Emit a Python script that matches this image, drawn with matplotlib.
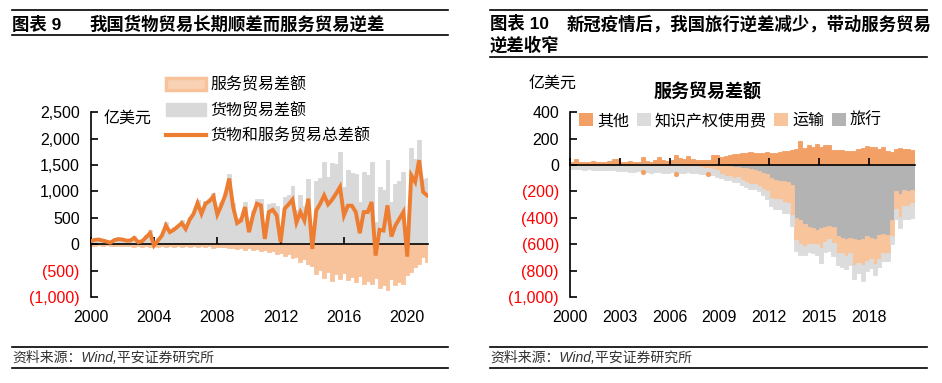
import numpy as np
import matplotlib
matplotlib.use("Agg")
import matplotlib.pyplot as plt
from matplotlib.patches import Patch
from matplotlib.lines import Line2D

plt.rcParams['font.family'] = ['Liberation Sans', 'Noto Sans CJK SC']

# ---- left chart: quarterly 2000Q1 - 2021Q2, 亿美元 ----
total = [57, 82, 89, 70, 50, 30, 80, 95, 89, 70, 70, 120, 40, 57, 133, 210,
         -25, 70, 165, 355, 230, 273, 336, 400, 290, 463, 577, 780, 577, 768, 818, 907,
         565, 736, 926, 1244, 704, 400, 450, 704, 228, 546, 768, 736, 101, 609, 653, 546,
         38, 672, 755, 844, 412, 609, 450, 863, -89, 641, 768, 926, 755, 844, 958, 1085,
         546, 730, 730, 609, 209, 609, 609, 800, -216, 273, 260, 736, 146, 355, 482, 609,
         -235, 1307, 1180, 1593, 990, 926]
services = [-25, -30, -20, -35, -20, -30, -25, -40, -30, -35, -30, -45, -40, -45, -35, -55,
            -30, -45, -35, -60, -35, -45, -30, -55, -40, -50, -30, -60, -40, -55, -35, -70,
            -45, -60, -50, -80, -70, -90, -75, -100, -80, -110, -90, -130, -110, -150, -120, -180,
            -160, -220, -180, -260, -240, -330, -280, -380, -420, -560, -480, -640,
            -520, -690, -560, -660, -540, -680, -620, -720, -600, -760, -700, -760,
            -640, -820, -770, -860, -660, -780, -720, -760, -580, -520, -440, -380,
            -250, -330]
goods = [t - s for t, s in zip(total, services)]
left_yticks = [-1000, -500, 0, 500, 1000, 1500, 2000, 2500]
left_xticks = [2000, 2004, 2008, 2012, 2016, 2020]

# ---- right chart: quarterly 2000Q1 - 2020Q3, 亿美元 ----
other = [20, 43, 25, 20, 25, 30, 20, 25, 25, 30, 43, 43, 20, 25, 30, 25,
         25, 43, 30, 25, 40, 63, 35, 30, 40, 50, 50, 45, 68, 45, 40, 35,
         35, 40, 75, 75, 60, 70, 75, 85, 85, 90, 95, 100, 95, 90, 95, 100,
         95, 90, 100, 110, 110, 115, 120, 184, 130, 150, 140, 160, 140, 150, 150, 115,
         115, 115, 110, 105, 110, 120, 130, 143, 135, 140, 125, 140, 110, 100, 120, 130,
         125, 120, 115]
travel = [0, 0, 0, 0, 0, 0, 0, 0, 0, 0, 0, 0, 0, 0, 0, 0,
          0, 20, 0, 0, 0, 0, 0, 0, 0, 25, 0, 0, 0, 0, 0, 0,
          0, 0, 0, 0, -5, -10, -10, -15, -15, -20, -25, -30, -40, -45, -60, -70,
          -100, -110, -120, -120, -130, -150, -400, -420, -450, -470, -480, -490, -480, -470, -460, -470,
          -540, -550, -560, -550, -560, -570, -560, -540, -550, -560, -530, -520, -530, -420, -200, -220,
          -190, -200, -190]
transport = [-5, -4, -5, -6, -5, -5, -4, -6, -5, -6, -5, -6, -5, -6, -5, -6,
             -6, -5, -6, -7, -6, -6, -7, -8, -7, -6, -8, -8, -10, -10, -10, -15,
             -20, -25, -30, -40, -60, -70, -70, -80, -75, -95, -100, -110, -100, -110, -120, -130,
             -150, -150, -140, -160, -160, -230, -170, -180, -160, -130, -120, -110, -150, -110, -100, -120,
             -130, -120, -130, -120, -200, -170, -200, -190, -160, -190, -180, -150, -140, -120, -130, -170,
             -120, -110, -100]
ip_fee = [-25, -28, -25, -30, -28, -30, -30, -32, -30, -35, -32, -38, -40, -42, -45, -45,
          -42, -45, -48, -50, -45, -48, -50, -52, -48, -50, -52, -55, -45, -50, -48, -50,
          -50, -50, -45, -50, -35, -35, -35, -30, -35, -35, -40, -45, -40, -45, -50, -55,
          -60, -70, -70, -80, -70, -80, -80, -80, -70, -60, -70, -80, -110, -80, -90, -100,
          -90, -100, -100, -90, -100, -80, -120, -70, -70, -80, -60, -60, -60, -60, -80, -90,
          -100, -100, -110]
# stray markers in the original (transport, 2004-2008)
dot_x = [2004.38, 2006.37, 2008.29]
dot_y = [-56, -66, -70]
right_yticks = [-1000, -800, -600, -400, -200, 0, 200, 400]
right_xticks = [2000, 2003, 2006, 2009, 2012, 2015, 2018]

C_LINE = '#ED7D31'
C_SERV = '#F8C39B'
C_GOODS = '#D9D9D9'
C_OTHER = '#F2A066'
C_IP = '#DCDCDC'
C_TRANS = '#F8C49C'
C_TRAVEL = '#B3B3B3'

W, H = 942, 383


def fx(px):
    return px / W


def fy(py):
    return 1 - py / H


def fmt(v):
    return f"({abs(v):,})" if v < 0 else f"{v:,}"


def style_axes(ax, yticks, xticks, xpad):
    ax.set_yticks(yticks)
    ax.set_yticklabels([fmt(v) for v in yticks])
    for lab, v in zip(ax.get_yticklabels(), yticks):
        lab.set_color('red' if v < 0 else 'black')
    ax.set_xticks(xticks)
    ax.set_xticklabels([str(v) for v in xticks])
    for s in ('top', 'right'):
        ax.spines[s].set_visible(False)
    ax.spines['bottom'].set_position(('data', 0))
    ax.spines['bottom'].set_linewidth(1.2)
    ax.spines['left'].set_linewidth(1.2)
    ax.tick_params(axis='y', direction='in', length=5, width=1.2, pad=8, labelsize=11.5)
    ax.tick_params(axis='x', direction='in', length=5, width=1.2, pad=xpad, labelsize=11.5)


def bars(ax, x, h, color, bottom=None, align='center'):
    # thin edge in the face colour hides antialiasing seams between bars
    ax.bar(x, h, bottom=bottom, width=0.25, align=align, color=color,
           edgecolor=color, linewidth=0.6, zorder=1)


fig = plt.figure(figsize=(9.42, 3.83), dpi=100)

# ---------------- left ----------------
q1 = 2000 + np.arange(len(total)) / 4
ax1 = fig.add_axes([fx(90.7), fy(297), fx(428) - fx(90.7), fy(112.3) - fy(297)])
bars(ax1, q1, goods, C_GOODS)
bars(ax1, q1, services, C_SERV)
ax1.plot(q1, total, color=C_LINE, lw=2.8, zorder=3, solid_joinstyle='miter')
ax1.set_xlim(2000, 2021.31)
ax1.set_ylim(-1000, 2500)
style_axes(ax1, left_yticks, left_xticks, 47)
fig.text(fx(103.3), fy(118.3), '亿美元', fontsize=11.5, va='center')

h1 = [Patch(facecolor='#F9D2B5', edgecolor=C_SERV, lw=2.5),
      Patch(facecolor=C_GOODS, edgecolor=C_GOODS),
      Line2D([], [], color=C_LINE, lw=3)]
ax1.legend(h1, ['服务贸易差额', '货物贸易差额', '货物和服务贸易总差额'],
           loc='upper left', bbox_to_anchor=(fx(166), fy(77)), bbox_transform=fig.transFigure,
           frameon=False, fontsize=11.5, handlelength=2.5, handleheight=0.8,
           handletextpad=0.3, labelspacing=0.62, borderpad=0, borderaxespad=0)

# ---------------- right ----------------
q2 = 2000 + np.arange(len(other)) / 4
trv = np.array(travel)
pos_base = np.clip(trv, 0, None)
neg_travel = np.clip(trv, None, 0)
ax2 = fig.add_axes([fx(570), fy(297), fx(915) - fx(570), fy(112.3) - fy(297)])
bars(ax2, q2, pos_base, C_TRAVEL, align='edge')
bars(ax2, q2, other, C_OTHER, bottom=pos_base, align='edge')
bars(ax2, q2, neg_travel, C_TRAVEL, align='edge')
bars(ax2, q2, transport, C_TRANS, bottom=neg_travel, align='edge')
bars(ax2, q2, ip_fee, C_IP, bottom=neg_travel + np.array(transport), align='edge')
ax2.scatter(dot_x, dot_y, s=14, color=C_OTHER, zorder=2, linewidths=0)
ax2.set_xlim(2000, 2020.78)
ax2.set_ylim(-1000, 400)
style_axes(ax2, right_yticks, right_xticks, 104)

h2 = [Patch(facecolor=c) for c in (C_OTHER, C_IP, C_TRANS, C_TRAVEL)]
ax2.legend(h2, ['其他', '知识产权使用费', '运输', '旅行'],
           loc='upper left', bbox_to_anchor=(fx(579), fy(113)), bbox_transform=fig.transFigure,
           frameon=False, fontsize=11.5, ncol=4, handlelength=0.9, handleheight=0.85,
           handletextpad=0.25, columnspacing=0.45, borderpad=0, borderaxespad=0)
fig.text(fx(529), fy(83.5), '亿美元', fontsize=11.5, va='center')
fig.text(fx(708), fy(92.7), '服务贸易差额', fontsize=13, fontweight='bold', ha='center', va='center')

# ---------------- titles and sources ----------------
def rule(x0, x1, y):
    fig.add_artist(Line2D([fx(x0), fx(x1)], [fy(y), fy(y)], color='black', lw=1.2,
                          transform=fig.transFigure))


for x0, x1 in ((12, 448), (490, 927)):
    rule(x0, x1, 9.5)
    rule(x0, x1, 347)
    rule(x0, x1, 368.3)
    fig.text(fx(x0), fy(357.5), '资料来源：Wind,平安证券研究所', fontsize=10, style='italic',
             color='#333333', va='center')
rule(12, 448, 34.7)
rule(490, 927, 57.3)

tkw = dict(fontsize=12.5, fontweight='bold', va='center')
fig.text(fx(12), fy(24), '图表 9', **tkw)
fig.text(fx(89.3), fy(24), '我国货物贸易长期顺差而服务贸易逆差', **tkw)
fig.text(fx(490), fy(23.3), '图表 10', **tkw)
fig.text(fx(566.7), fy(23.3), '新冠疫情后，我国旅行逆差减少，带动服务贸易', **tkw)
fig.text(fx(490), fy(45), '逆差收窄', **tkw)

fig.savefig('out.png', dpi=100)
